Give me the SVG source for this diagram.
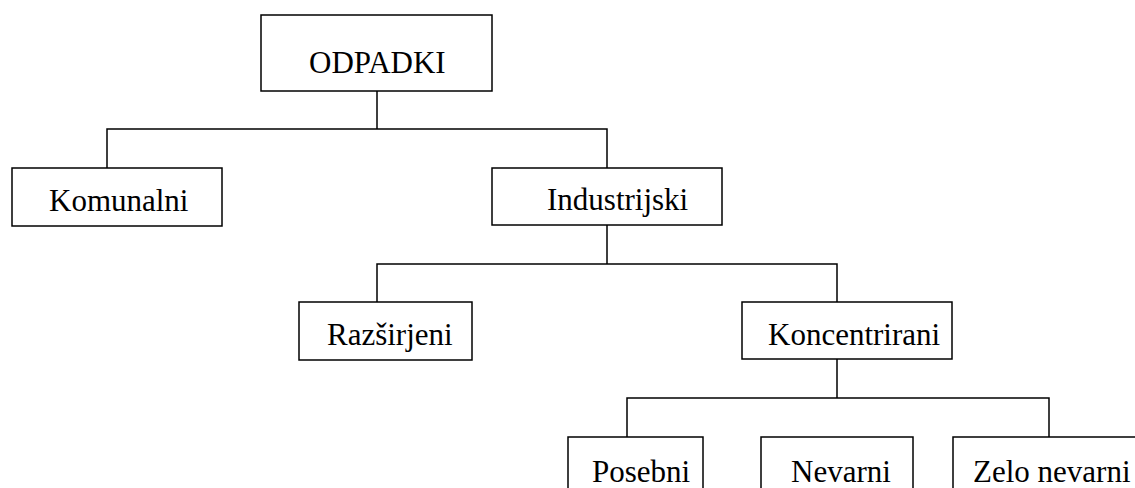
<svg xmlns="http://www.w3.org/2000/svg" width="1135" height="488" viewBox="0 0 1135 488">
<style>
.box{fill:#fff;stroke:#000;stroke-width:1.5}
.lbl{font-family:"Liberation Serif","Times New Roman",serif;font-size:31px;fill:#000}
.conn{fill:none;stroke:#000;stroke-width:1.5}
</style>
<rect width="1135" height="488" fill="#fff"/>
<g id="connectors">
<path class="conn" d="M377,91 V129 M107,168 V129 H607 V168"/>
<path class="conn" d="M607,225 V264 M377,302 V264 H837 V302"/>
<path class="conn" d="M837,359 V398 M627,437 V398 H1049 V437"/>
</g>
<g id="odpadki"><rect class="box" x="261" y="15" width="231" height="76"/><text class="lbl" x="309" y="73">ODPADKI</text></g>
<g id="komunalni"><rect class="box" x="12" y="168" width="210" height="58"/><text class="lbl" x="49" y="211">Komunalni</text></g>
<g id="industrijski"><rect class="box" x="492" y="168" width="230" height="57"/><text class="lbl" x="547" y="210">Industrijski</text></g>
<g id="razsirjeni"><rect class="box" x="299" y="302" width="173" height="58"/><text class="lbl" x="327" y="345">Razširjeni</text></g>
<g id="koncentrirani"><rect class="box" x="742" y="302" width="210" height="57"/><text class="lbl" x="768" y="345">Koncentrirani</text></g>
<g id="posebni"><rect class="box" x="568" y="437" width="135" height="70"/><text class="lbl" x="592" y="482">Posebni</text></g>
<g id="nevarni"><rect class="box" x="761" y="437" width="152" height="70"/><text class="lbl" x="791" y="482">Nevarni</text></g>
<g id="zelo-nevarni"><rect class="box" x="953" y="437" width="200" height="70"/><text class="lbl" x="973" y="482">Zelo nevarni</text></g>
</svg>
